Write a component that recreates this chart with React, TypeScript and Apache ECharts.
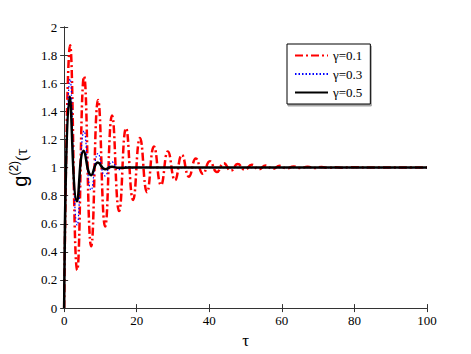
import React, { useEffect, useRef } from "react";
import * as echarts from "echarts";

// Extremes of g2(tau) for each damping rate
const gamma01: [number, number][] = [
  [0, 0], [1.65, 1.87], [3.6, 0.27], [5.5, 1.65], [7.45, 0.44], [9.35, 1.48], [11.3, 0.58],
  [13.2, 1.37], [15.15, 0.69], [17.05, 1.28], [19.0, 0.77], [20.9, 1.21], [22.85, 0.825],
  [24.75, 1.15], [26.7, 0.875], [28.6, 1.115], [30.55, 0.91], [32.45, 1.09], [34.4, 0.935],
  [36.3, 1.065], [38.25, 0.955], [40.15, 1.045], [42.1, 0.968], [44.0, 1.03], [45.95, 0.978],
  [47.85, 1.025], [49.8, 0.984], [51.7, 1.02], [53.65, 0.988], [55.55, 1.015], [57.5, 0.991],
  [59.4, 1.012], [61.35, 0.994], [63.25, 1.008], [65.2, 0.996], [67.1, 1.006], [69.05, 0.997],
  [70.95, 1.004], [72.9, 0.998], [74.8, 1.003], [76.75, 0.999], [78.65, 1.002], [85, 1.0], [100, 1.0],
];
const gamma03: [number, number][] = [
  [0, 0], [1.65, 1.63], [3.6, 0.59], [5.5, 1.26], [7.45, 0.84], [9.35, 1.1], [11.3, 0.94],
  [13.2, 1.04], [15.15, 0.985], [17.05, 1.007], [19.0, 0.997], [20.9, 1.002], [25, 1.0], [100, 1.0],
];
const gamma05: [number, number][] = [
  [0, 0], [1.55, 1.505], [3.55, 0.76], [5.4, 1.12], [7.45, 0.945], [9.3, 1.036], [11.3, 0.988],
  [13.2, 1.005], [15.1, 0.998], [18, 1.0], [100, 1.0],
];
const seriesNames = ["γ=0.1", "γ=0.3", "γ=0.5"];
const xTicks = { min: 0, max: 100, interval: 20 };
const yTicks = { min: 0, max: 2, interval: 0.2 };

const FONT = "'Liberation Serif', 'Times New Roman', serif";
const SANS = "'Liberation Sans', Arial, sans-serif";

export default function App() {
  const ref = useRef<HTMLDivElement>(null);
  useEffect(() => {
    if (!ref.current) return;
    const chart = echarts.init(ref.current, undefined, { renderer: "svg" });
    const axisLine = { show: true, lineStyle: { color: "#333", width: 1 } };
    const tick = { show: true, inside: true, length: 4, lineStyle: { color: "#333" } };
    chart.setOption({
      animation: false,
      backgroundColor: "#fff",
      grid: { left: 62, right: 44, top: 27, bottom: 39, containLabel: false },
      legend: {
        orient: "vertical",
        left: 287,
        top: 44,
        padding: [5, 8, 5, 7],
        itemWidth: 33,
        itemHeight: 14,
        itemGap: 5.5,
        backgroundColor: "#fff",
        borderColor: "#000",
        borderWidth: 1,
        borderRadius: 0,
        shadowColor: "rgba(0,0,0,0.35)",
        shadowOffsetX: 1,
        shadowOffsetY: 2,
        shadowBlur: 0,
        itemStyle: { opacity: 0 },
        textStyle: { fontFamily: FONT, fontSize: 13, color: "#000" },
        data: seriesNames,
      },
      xAxis: [
        {
          type: "value",
          ...xTicks,
          position: "bottom",
          axisLine,
          axisTick: tick,
          splitLine: { show: false },
          axisLabel: { fontFamily: FONT, fontSize: 13, color: "#000", margin: 6 },
          name: "τ",
          nameLocation: "middle",
          nameGap: 17,
          nameTextStyle: { fontFamily: FONT, fontSize: 17, color: "#000" },
        },
        {
          type: "value",
          ...xTicks,
          position: "top",
          axisLine,
          axisTick: tick,
          splitLine: { show: false },
          axisLabel: { show: false },
        },
      ],
      yAxis: [
        {
          type: "value",
          ...yTicks,
          position: "left",
          axisLine,
          axisTick: tick,
          splitLine: { show: false },
          axisLabel: { fontFamily: FONT, fontSize: 13, color: "#000", margin: 7 },
          name: "{g|g}{s|(2)}{t|(τ}",
          nameLocation: "middle",
          nameRotate: 90,
          nameGap: 30,
          nameTextStyle: {
            rich: {
              g: { fontFamily: SANS, fontSize: 20, color: "#000", lineHeight: 22, verticalAlign: "bottom" },
              s: { fontFamily: SANS, fontSize: 12, color: "#000", lineHeight: 22, verticalAlign: "top" },
              t: { fontFamily: FONT, fontSize: 17, color: "#000", lineHeight: 22, verticalAlign: "bottom" },
            },
          },
        },
        {
          type: "value",
          ...yTicks,
          position: "right",
          axisLine,
          axisTick: tick,
          splitLine: { show: false },
          axisLabel: { show: false },
        },
      ],
      series: [
        {
          name: seriesNames[0],
          type: "line",
          data: gamma01,
          smooth: 0.5,
          symbol: "none",
          lineStyle: { color: "#ff0000", width: 2.5, type: [8, 3, 2, 3] },
          itemStyle: { color: "#ff0000" },
          z: 2,
        },
        {
          name: seriesNames[1],
          type: "line",
          data: gamma03,
          smooth: 0.5,
          symbol: "none",
          lineStyle: { color: "#0000ff", width: 1.2, type: [1.5, 2] },
          itemStyle: { color: "#0000ff" },
          z: 3,
        },
        {
          name: seriesNames[2],
          type: "line",
          data: gamma05,
          smooth: 0.5,
          symbol: "none",
          lineStyle: { color: "#000000", width: 2.5, type: "solid" },
          itemStyle: { color: "#000000" },
          z: 4,
        },
      ],
    });
    return () => chart.dispose();
  }, []);
  return <div ref={ref} style={{ position: "fixed", left: 0, top: 0, width: 471, height: 354 }} />;
}
